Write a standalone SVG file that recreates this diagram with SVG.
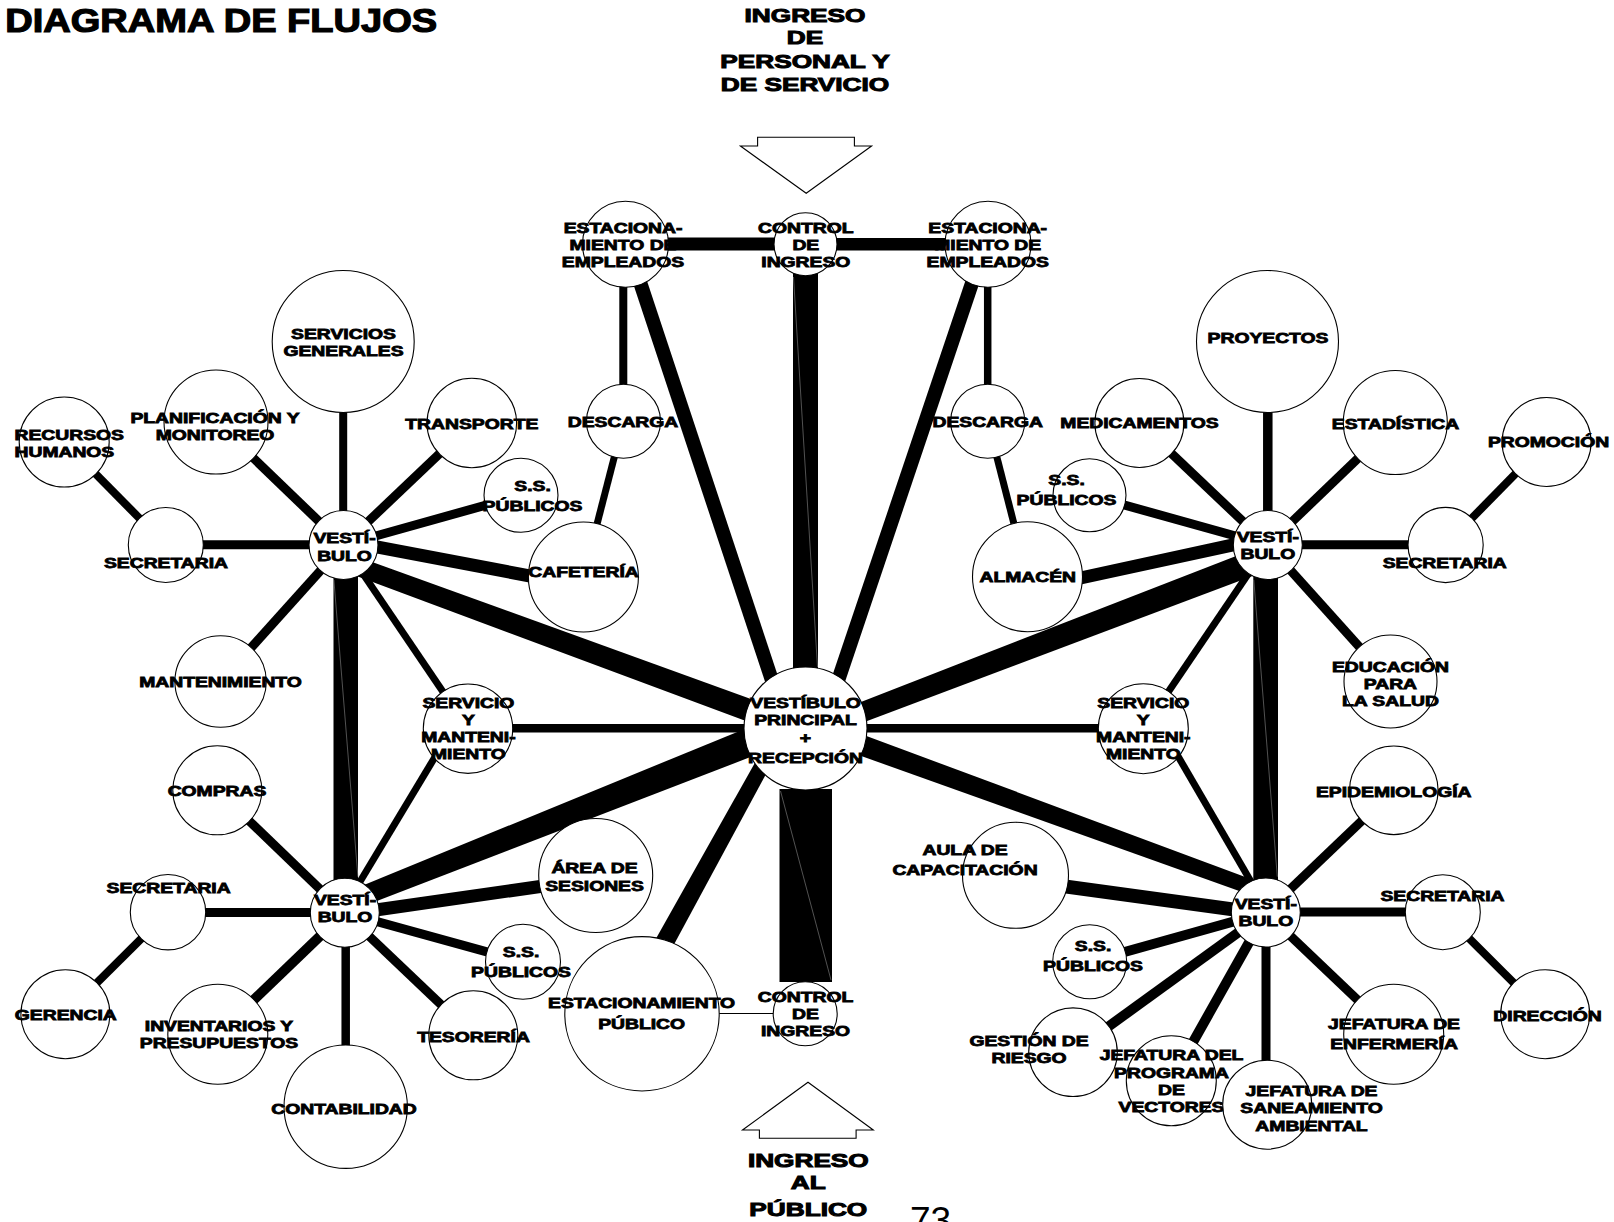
<svg xmlns="http://www.w3.org/2000/svg" width="1614" height="1222" viewBox="0 0 1614 1222">
<style>
.n{fill:#fff;stroke:#000;stroke-width:1.1}
.t{font-family:"Liberation Sans",Arial,sans-serif;font-weight:700;font-size:14px;text-anchor:middle;fill:#000;stroke:#000;stroke-width:0.8}
.ts{text-anchor:start}
.big{font-size:19px;stroke-width:1}
.ttl{font-size:34px;text-anchor:start;stroke-width:1.2}
.c line{stroke:#000;stroke-linecap:butt}
.c rect,.c polygon{fill:#000;stroke:none}
.seam{stroke:#8a8a8a!important;stroke-width:0.6}
.arr{fill:#fff;stroke:#000;stroke-width:1.1}
.pg{font-family:"Liberation Sans",Arial,sans-serif;font-size:37px;fill:#000}
</style>
<rect width="1614" height="1222" fill="#fff"/>
<text class="t ttl" transform="matrix(1.12,0,0,1,5.2,0)"><tspan x="0" y="31.7">DIAGRAMA DE FLUJOS</tspan></text>

<g id="connectors" class="c">
<rect x="650" y="237.5" width="140" height="13"/>
<rect x="820" y="238" width="150" height="12.5"/>
<line x1="623.3" y1="244" x2="623.3" y2="421" stroke-width="8"/>
<line x1="987.7" y1="244" x2="987.7" y2="421" stroke-width="7.5"/>
<line x1="627.4" y1="244" x2="787.9" y2="728.5" stroke-width="14"/>
<line x1="985.2" y1="244" x2="821.9" y2="728.5" stroke-width="14"/>
<rect x="793" y="244" width="25" height="484"/>
<line class="seam" x1="793.5" y1="277" x2="817.5" y2="667"/>
<line x1="623.5" y1="421.3" x2="583.4" y2="577" stroke-width="7"/>
<line x1="987.7" y1="421.3" x2="1027.5" y2="576.7" stroke-width="7"/>
<line x1="343.2" y1="341.5" x2="343.2" y2="545" stroke-width="8"/>
<line x1="216" y1="422" x2="343.5" y2="545" stroke-width="9"/>
<line x1="165.8" y1="544.7" x2="343.5" y2="544.7" stroke-width="9"/>
<line x1="64.2" y1="442" x2="165.8" y2="545" stroke-width="8"/>
<line x1="471.8" y1="423" x2="343.5" y2="545" stroke-width="9"/>
<line x1="521" y1="495.3" x2="343.5" y2="545" stroke-width="9"/>
<line x1="343.5" y1="540.7" x2="583" y2="586" stroke-width="13"/>
<polygon points="347.9,553.2 777.5,708.6 775.7,732.2 339.1,569.6"/>
<line x1="343.5" y1="545" x2="468" y2="728.7" stroke-width="7"/>
<rect x="333.5" y="545" width="24.5" height="368"/>
<line class="seam" x1="333.9" y1="580" x2="357.9" y2="876.7"/>
<line x1="343.5" y1="545" x2="220.6" y2="681.5" stroke-width="9"/>
<line x1="452" y1="728.7" x2="341.3" y2="912.7" stroke-width="7"/>
<polygon points="340.2,894.7 761.7,721.9 770.9,749.2 347,912.5"/>
<line x1="344.5" y1="914.5" x2="595.7" y2="878.5" stroke-width="13"/>
<line x1="344.5" y1="912.7" x2="523" y2="961.8" stroke-width="9"/>
<line x1="344.5" y1="912.7" x2="473.3" y2="1035.3" stroke-width="9"/>
<line x1="345.7" y1="912.7" x2="345.7" y2="1106.7" stroke-width="8.5"/>
<line x1="344.5" y1="912.7" x2="217.8" y2="1034.3" stroke-width="10"/>
<line x1="168" y1="912.5" x2="344.5" y2="912.5" stroke-width="9"/>
<line x1="217.3" y1="790.3" x2="344.5" y2="912.7" stroke-width="9"/>
<line x1="168" y1="912.2" x2="65.4" y2="1014.2" stroke-width="8"/>
<line x1="468" y1="728.3" x2="805.5" y2="728.3" stroke-width="8.5"/>
<line x1="805.5" y1="728.3" x2="1143.3" y2="728.3" stroke-width="8.5"/>
<polygon points="761.6,750.9 775.8,755.9 665.2,960.7 647.3,954.1"/>
<rect x="779.5" y="789" width="52.5" height="193"/>
<line class="seam" x1="780.5" y1="791" x2="831" y2="980"/>
<line x1="719" y1="1013.5" x2="774" y2="1013.5" stroke-width="1.2"/>
<polygon points="824.4,716.2 1258,547.4 1269.8,569.4 832.6,734.1"/>
<polygon points="830.8,722.7 1263.4,883.7 1260.2,898.4 825.6,743.3"/>
<line x1="1267.8" y1="341.5" x2="1267.8" y2="545" stroke-width="9.5"/>
<line x1="1139.4" y1="423" x2="1267.8" y2="545" stroke-width="9"/>
<line x1="1089.5" y1="495.3" x2="1267.8" y2="545" stroke-width="9"/>
<line x1="1027.5" y1="589.5" x2="1267.8" y2="537.3" stroke-width="13"/>
<line x1="1395.3" y1="422.5" x2="1267.8" y2="545" stroke-width="9"/>
<line x1="1267.8" y1="544.7" x2="1445.6" y2="544.7" stroke-width="9"/>
<line x1="1445.6" y1="545" x2="1546.6" y2="442" stroke-width="8"/>
<line x1="1267.8" y1="545" x2="1390.5" y2="681.5" stroke-width="9"/>
<line x1="1267.8" y1="545" x2="1143.3" y2="728.7" stroke-width="7"/>
<rect x="1253.3" y="545" width="24.7" height="368"/>
<line class="seam" x1="1253.8" y1="580" x2="1277.3" y2="876.7"/>
<line x1="1162" y1="728.7" x2="1268.9" y2="912.5" stroke-width="7"/>
<line x1="1015.5" y1="879.6" x2="1265.8" y2="913.9" stroke-width="14"/>
<line x1="1089.7" y1="961.7" x2="1265.8" y2="912.5" stroke-width="10"/>
<line x1="1073" y1="1052.2" x2="1265.8" y2="912.5" stroke-width="10"/>
<line x1="1171.3" y1="1080.8" x2="1265.8" y2="912.5" stroke-width="10"/>
<line x1="1266" y1="912.5" x2="1266" y2="1104.7" stroke-width="9"/>
<line x1="1265.8" y1="912.5" x2="1393.7" y2="1034.3" stroke-width="9"/>
<line x1="1265.8" y1="912" x2="1442.8" y2="912" stroke-width="9"/>
<line x1="1442.8" y1="912.2" x2="1545.2" y2="1014.2" stroke-width="8"/>
<line x1="1265.8" y1="912.5" x2="1393.8" y2="790.3" stroke-width="9"/>
</g>

<g id="entry-personal">
<polygon class="arr" points="757.6,137.3 854.4,137.3 854.4,146 871.6,146 806.2,193.3 740.4,146 757.6,146"/>
<text class="t big" transform="matrix(1.38,0,0,1,805,0)"><tspan x="0" y="21.7">INGRESO</tspan><tspan x="0" y="44.3">DE</tspan><tspan x="0" y="68.3">PERSONAL Y</tspan><tspan x="0" y="90.7">DE SERVICIO</tspan></text>
</g>
<g id="entry-publico">
<polygon class="arr" points="808,1082.3 873.3,1130 856.1,1130 856.1,1138.3 759.4,1138.3 759.4,1130 742.5,1130"/>
<text class="t big" transform="matrix(1.38,0,0,1,808.3,0)"><tspan x="0" y="1166.7">INGRESO</tspan><tspan x="0" y="1189.3">AL</tspan><tspan x="0" y="1215.7">PÚBLICO</tspan></text>
</g>

<g id="est-empleados-izq"><circle class="n" cx="625.5" cy="244.3" r="43"/><text class="t" transform="matrix(1.38,0,0,1,623,0)"><tspan x="0" y="232.7">ESTACIONA-</tspan><tspan x="0" y="250">MIENTO DE</tspan><tspan x="0" y="266.7">EMPLEADOS</tspan></text></g>
<g id="control-ingreso-sup"><circle class="n" cx="805.5" cy="244.2" r="31.5"/><text class="t" transform="matrix(1.38,0,0,1,805.8,0)"><tspan x="0" y="232.7">CONTROL</tspan><tspan x="0" y="250">DE</tspan><tspan x="0" y="266.7">INGRESO</tspan></text></g>
<g id="est-empleados-der"><circle class="n" cx="988" cy="244.3" r="43"/><text class="t" transform="matrix(1.38,0,0,1,987.7,0)"><tspan x="0" y="232.7">ESTACIONA-</tspan><tspan x="0" y="250">MIENTO DE</tspan><tspan x="0" y="266.7">EMPLEADOS</tspan></text></g>
<g id="descarga-izq"><circle class="n" cx="623.5" cy="421.3" r="37"/><text class="t" transform="matrix(1.38,0,0,1,623,0)"><tspan x="0" y="426.7">DESCARGA</tspan></text></g>
<g id="descarga-der"><circle class="n" cx="987.7" cy="421.3" r="37"/><text class="t" transform="matrix(1.38,0,0,1,987.7,0)"><tspan x="0" y="426.7">DESCARGA</tspan></text></g>
<g id="cafeteria"><circle class="n" cx="583.4" cy="577" r="55"/><text class="t" transform="matrix(1.38,0,0,1,583.5,0)"><tspan x="0" y="577.3">CAFETERÍA</tspan></text></g>
<g id="almacen"><circle class="n" cx="1027.5" cy="576.7" r="55"/><text class="t" transform="matrix(1.38,0,0,1,1027.7,0)"><tspan x="0" y="581.7">ALMACÉN</tspan></text></g>
<g id="ss-publicos-1"><circle class="n" cx="521" cy="495.3" r="37"/><text class="t" transform="matrix(1.38,0,0,1,532.5,0)"><tspan x="0" y="490.7">S.S.</tspan><tspan x="0" y="510.7">PÚBLICOS</tspan></text></g>
<g id="ss-publicos-2"><circle class="n" cx="1089.5" cy="495.3" r="36.5"/><text class="t" transform="matrix(1.38,0,0,1,1066.5,0)"><tspan x="0" y="485">S.S.</tspan><tspan x="0" y="505">PÚBLICOS</tspan></text></g>
<g id="vestibulo-principal"><circle class="n" cx="805.5" cy="728.5" r="61.5"/><text class="t" transform="matrix(1.38,0,0,1,805.5,0)"><tspan x="0" y="707.7">VESTÍBULO</tspan><tspan x="0" y="725">PRINCIPAL</tspan><tspan x="0" y="743.5">+</tspan><tspan x="0" y="762.7">RECEPCIÓN</tspan></text></g>
<g id="vestibulo-1"><circle class="n" cx="343.5" cy="545" r="34.5"/><text class="t" transform="matrix(1.38,0,0,1,344.5,0)"><tspan x="0" y="543.5">VESTÍ-</tspan><tspan x="0" y="561">BULO</tspan></text></g>
<g id="vestibulo-2"><circle class="n" cx="344.8" cy="912.7" r="34.5"/><text class="t" transform="matrix(1.38,0,0,1,345,0)"><tspan x="0" y="905">VESTÍ-</tspan><tspan x="0" y="921.7">BULO</tspan></text></g>
<g id="vestibulo-3"><circle class="n" cx="1267.8" cy="545" r="34.5"/><text class="t" transform="matrix(1.38,0,0,1,1267.8,0)"><tspan x="0" y="542">VESTÍ-</tspan><tspan x="0" y="559">BULO</tspan></text></g>
<g id="vestibulo-4"><circle class="n" cx="1265.8" cy="912.5" r="34.5"/><text class="t" transform="matrix(1.38,0,0,1,1265.8,0)"><tspan x="0" y="909.5">VESTÍ-</tspan><tspan x="0" y="926.5">BULO</tspan></text></g>
<g id="servicio-mant-1"><circle class="n" cx="468" cy="728.7" r="44.7"/><text class="t" transform="matrix(1.38,0,0,1,468.4,0)"><tspan x="0" y="707.7">SERVICIO</tspan><tspan x="0" y="725">Y</tspan><tspan x="0" y="741.7">MANTENI-</tspan><tspan x="0" y="759">MIENTO</tspan></text></g>
<g id="servicio-mant-2"><circle class="n" cx="1143.3" cy="728.7" r="45"/><text class="t" transform="matrix(1.38,0,0,1,1143.3,0)"><tspan x="0" y="708">SERVICIO</tspan><tspan x="0" y="725.3">Y</tspan><tspan x="0" y="742">MANTENI-</tspan><tspan x="0" y="759.3">MIENTO</tspan></text></g>
<g id="servicios-generales"><circle class="n" cx="343.2" cy="341.5" r="71"/><text class="t" transform="matrix(1.38,0,0,1,343.5,0)"><tspan x="0" y="339">SERVICIOS</tspan><tspan x="0" y="355.7">GENERALES</tspan></text></g>
<g id="planificacion"><circle class="n" cx="216" cy="422" r="52"/><text class="t" transform="matrix(1.38,0,0,1,215,0)"><tspan x="0" y="422.7">PLANIFICACIÓN Y</tspan><tspan x="0" y="440">MONITOREO</tspan></text></g>
<g id="recursos-humanos"><circle class="n" cx="64.2" cy="442" r="45"/><text class="t ts" transform="matrix(1.38,0,0,1,14.5,0)"><tspan x="0" y="440">RECURSOS</tspan><tspan x="0" y="457.3">HUMANOS</tspan></text></g>
<g id="transporte"><circle class="n" cx="471.8" cy="423" r="44.8"/><text class="t" transform="matrix(1.38,0,0,1,471.8,0)"><tspan x="0" y="429">TRANSPORTE</tspan></text></g>
<g id="secretaria-1"><circle class="n" cx="165.8" cy="545" r="37.5"/><text class="t" transform="matrix(1.38,0,0,1,166,0)"><tspan x="0" y="567.7">SECRETARIA</tspan></text></g>
<g id="mantenimiento"><circle class="n" cx="220.6" cy="681.5" r="45.7"/><text class="t" transform="matrix(1.38,0,0,1,220.5,0)"><tspan x="0" y="687.3">MANTENIMIENTO</tspan></text></g>
<g id="compras"><circle class="n" cx="217.3" cy="790.3" r="44.5"/><text class="t" transform="matrix(1.38,0,0,1,217,0)"><tspan x="0" y="795.7">COMPRAS</tspan></text></g>
<g id="secretaria-2"><circle class="n" cx="168" cy="912.2" r="37.7"/><text class="t" transform="matrix(1.38,0,0,1,168.6,0)"><tspan x="0" y="893.3">SECRETARIA</tspan></text></g>
<g id="gerencia"><circle class="n" cx="65.4" cy="1014.2" r="44.5"/><text class="t" transform="matrix(1.38,0,0,1,65.8,0)"><tspan x="0" y="1020">GERENCIA</tspan></text></g>
<g id="inventarios"><circle class="n" cx="217.8" cy="1034.3" r="50"/><text class="t" transform="matrix(1.38,0,0,1,219,0)"><tspan x="0" y="1030.7">INVENTARIOS Y</tspan><tspan x="0" y="1048.3">PRESUPUESTOS</tspan></text></g>
<g id="contabilidad"><circle class="n" cx="345.7" cy="1106.7" r="61.7"/><text class="t" transform="matrix(1.38,0,0,1,344,0)"><tspan x="0" y="1114.3">CONTABILIDAD</tspan></text></g>
<g id="tesoreria"><circle class="n" cx="473.3" cy="1035.3" r="44.5"/><text class="t" transform="matrix(1.38,0,0,1,473.5,0)"><tspan x="0" y="1041.7">TESORERÍA</tspan></text></g>
<g id="ss-publicos-3"><circle class="n" cx="523" cy="961.8" r="37.5"/><text class="t" transform="matrix(1.38,0,0,1,521,0)"><tspan x="0" y="957.3">S.S.</tspan><tspan x="0" y="977.3">PÚBLICOS</tspan></text></g>
<g id="area-sesiones"><circle class="n" cx="595.7" cy="875.5" r="57"/><text class="t" transform="matrix(1.38,0,0,1,594.5,0)"><tspan x="0" y="872.7">ÁREA DE</tspan><tspan x="0" y="890.7">SESIONES</tspan></text></g>
<g id="est-publico"><circle class="n" cx="642" cy="1013.8" r="77.2"/><text class="t" transform="matrix(1.38,0,0,1,641.6,0)"><tspan x="0" y="1008.3">ESTACIONAMIENTO</tspan><tspan x="0" y="1029">PÚBLICO</tspan></text></g>
<g id="control-ingreso-inf"><circle class="n" cx="805.2" cy="1013.7" r="32"/><text class="t" transform="matrix(1.38,0,0,1,805.5,0)"><tspan x="0" y="1001.7">CONTROL</tspan><tspan x="0" y="1019">DE</tspan><tspan x="0" y="1036">INGRESO</tspan></text></g>
<g id="proyectos"><circle class="n" cx="1267.5" cy="341.5" r="71"/><text class="t" transform="matrix(1.38,0,0,1,1268,0)"><tspan x="0" y="343.3">PROYECTOS</tspan></text></g>
<g id="medicamentos"><circle class="n" cx="1139.4" cy="423" r="44.5"/><text class="t" transform="matrix(1.38,0,0,1,1139.5,0)"><tspan x="0" y="428.3">MEDICAMENTOS</tspan></text></g>
<g id="estadistica"><circle class="n" cx="1395.3" cy="422.5" r="52"/><text class="t" transform="matrix(1.38,0,0,1,1395.5,0)"><tspan x="0" y="429.3">ESTADÍSTICA</tspan></text></g>
<g id="promocion"><circle class="n" cx="1546.6" cy="442" r="44.5"/><text class="t" transform="matrix(1.38,0,0,1,1548.5,0)"><tspan x="0" y="447.3">PROMOCIÓN</tspan></text></g>
<g id="secretaria-3"><circle class="n" cx="1445.6" cy="545" r="37.6"/><text class="t" transform="matrix(1.38,0,0,1,1444.7,0)"><tspan x="0" y="568.3">SECRETARIA</tspan></text></g>
<g id="educacion"><circle class="n" cx="1390.5" cy="681.5" r="46.5"/><text class="t" transform="matrix(1.38,0,0,1,1390.4,0)"><tspan x="0" y="671.7">EDUCACIÓN</tspan><tspan x="0" y="689.3">PARA</tspan><tspan x="0" y="706">LA SALUD</tspan></text></g>
<g id="epidemiologia"><circle class="n" cx="1393.8" cy="790.3" r="44.3"/><text class="t" transform="matrix(1.38,0,0,1,1393.7,0)"><tspan x="0" y="797.3">EPIDEMIOLOGÍA</tspan></text></g>
<g id="secretaria-4"><circle class="n" cx="1442.8" cy="912.2" r="37.5"/><text class="t" transform="matrix(1.38,0,0,1,1442.5,0)"><tspan x="0" y="901">SECRETARIA</tspan></text></g>
<g id="direccion"><circle class="n" cx="1545.2" cy="1014.2" r="44.5"/><text class="t" transform="matrix(1.38,0,0,1,1547.5,0)"><tspan x="0" y="1021">DIRECCIÓN</tspan></text></g>
<g id="jefatura-enfermeria"><circle class="n" cx="1393.7" cy="1034.3" r="50"/><text class="t" transform="matrix(1.38,0,0,1,1394,0)"><tspan x="0" y="1029">JEFATURA DE</tspan><tspan x="0" y="1049.3">ENFERMERÍA</tspan></text></g>
<g id="gestion-riesgo"><circle class="n" cx="1073" cy="1052.2" r="44.3"/><text class="t" transform="matrix(1.38,0,0,1,1029,0)"><tspan x="0" y="1045.7">GESTIÓN DE</tspan><tspan x="0" y="1063.3">RIESGO</tspan></text></g>
<g id="jefatura-vectores"><circle class="n" cx="1171.3" cy="1080.8" r="45"/><text class="t" transform="matrix(1.38,0,0,1,1171.5,0)"><tspan x="0" y="1060">JEFATURA DEL</tspan><tspan x="0" y="1077.7">PROGRAMA</tspan><tspan x="0" y="1095">DE</tspan><tspan x="0" y="1111.7">VECTORES</tspan></text></g>
<g id="jefatura-saneamiento"><circle class="n" cx="1267.2" cy="1104.7" r="44.5"/><text class="t" transform="matrix(1.38,0,0,1,1311.5,0)"><tspan x="0" y="1096">JEFATURA DE</tspan><tspan x="0" y="1113.3">SANEAMIENTO</tspan><tspan x="0" y="1130.7">AMBIENTAL</tspan></text></g>
<g id="ss-publicos-4"><circle class="n" cx="1089.7" cy="961.7" r="37"/><text class="t" transform="matrix(1.38,0,0,1,1093,0)"><tspan x="0" y="951">S.S.</tspan><tspan x="0" y="970.7">PÚBLICOS</tspan></text></g>
<g id="aula-capacitacion"><circle class="n" cx="1015.5" cy="875.3" r="53"/><text class="t" transform="matrix(1.38,0,0,1,965,0)"><tspan x="0" y="855">AULA DE</tspan><tspan x="0" y="875">CAPACITACIÓN</tspan></text></g>

<text class="pg" x="910" y="1233">73</text>
</svg>
